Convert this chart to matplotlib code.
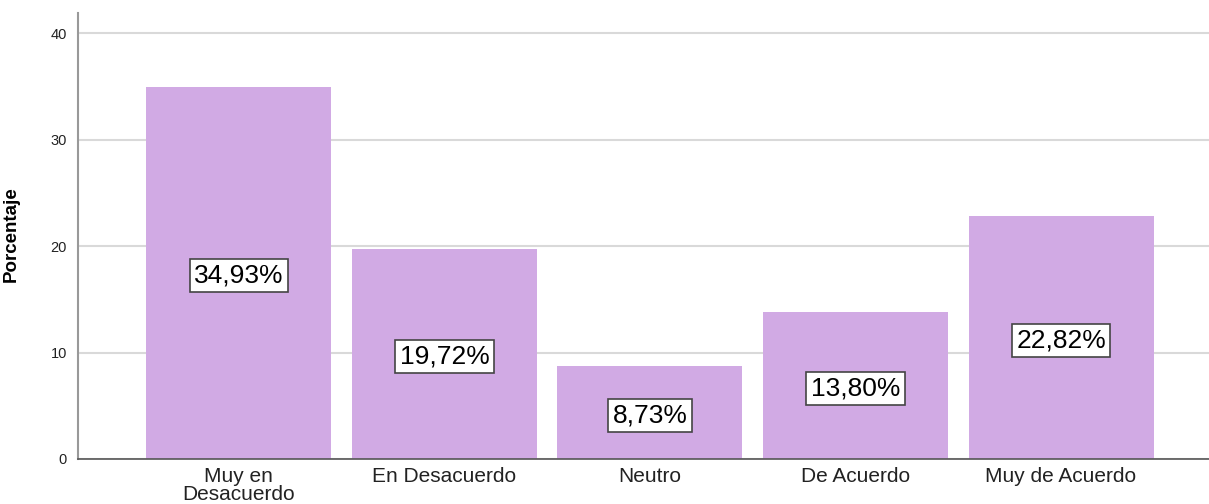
import matplotlib
matplotlib.use("Agg")
import matplotlib.pyplot as plt

categories = ["Muy en\nDesacuerdo", "En Desacuerdo", "Neutro", "De Acuerdo", "Muy de Acuerdo"]
values = [34.93, 19.72, 8.73, 13.80, 22.82]
labels = ["34,93%", "19,72%", "8,73%", "13,80%", "22,82%"]
yticks = [0, 10, 20, 30, 40]

plt.rcParams['font.family'] = ['Liberation Sans', 'DejaVu Sans']

fig = plt.figure(figsize=(12.09, 5.04), dpi=100)
ax = fig.add_axes([78/1209, 45/504, (1209-78)/1209, 446/504])

x = list(range(len(categories)))
ax.bar(x, values, width=0.9, color="#D1AAE4", zorder=2)
ax.set_xlim(-0.783, 4.72)
ax.set_ylim(0, 41.9)

ax.set_yticks(yticks)
ax.set_yticklabels([str(t) for t in yticks], fontsize=10.5, color="#222222")
ax.set_xticks(x)
ax.set_xticklabels(categories, fontsize=15, color="#222222", linespacing=0.9)
ax.tick_params(axis='y', length=0, pad=8)
ax.tick_params(axis='x', length=0, pad=6)

ax.grid(axis='y', color="#d9d9d9", linewidth=1.5, zorder=0)
ax.set_axisbelow(True)
for s in ['top', 'right']:
    ax.spines[s].set_visible(False)
ax.spines['left'].set_color("#999999")
ax.spines['left'].set_linewidth(1.5)
ax.spines['bottom'].set_color("#555555")
ax.spines['bottom'].set_linewidth(1.2)

ax.set_ylabel("Porcentaje", fontsize=13.5, fontweight='bold',
              family=['Liberation Sans Narrow', 'Liberation Sans', 'DejaVu Sans'])
ax.yaxis.set_label_coords(-58/1131, (459-234)/446)

for xi, v, lab in zip(x, values, labels):
    ax.text(xi, v/2 - 0.25, lab, ha='center', va='center', fontsize=19, color='black', zorder=3,
            bbox=dict(boxstyle='square,pad=0.17', facecolor='white', edgecolor='#444444', linewidth=1.2))

fig.savefig("out.png", dpi=100)
